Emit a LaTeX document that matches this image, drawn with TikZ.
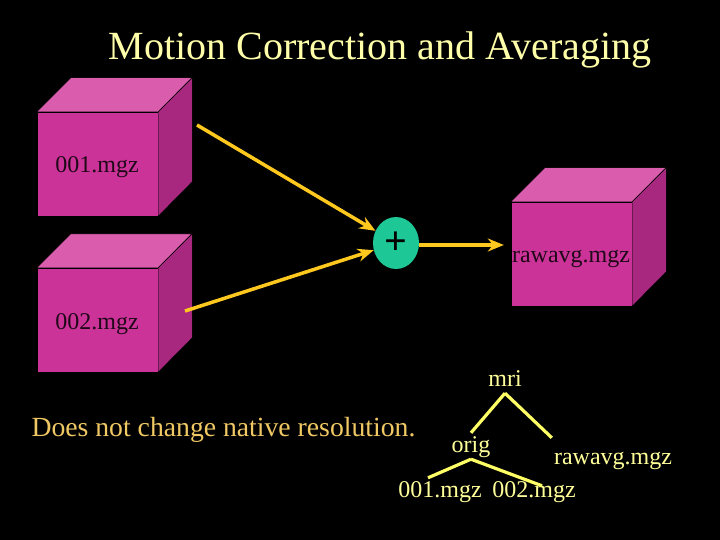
\documentclass[tikz,border=0pt]{standalone}
\usepackage{fontspec}
\setmainfont{Liberation Serif}
\usetikzlibrary{arrows.meta,shapes.geometric}
\definecolor{facefront}{RGB}{204,51,153}
\definecolor{facetop}{RGB}{218,92,172}
\definecolor{faceside}{RGB}{168,40,128}
\definecolor{arrowcol}{RGB}{255,200,30}
\definecolor{plusfill}{RGB}{30,200,150}
\definecolor{treeline}{RGB}{255,255,102}
\definecolor{treetext}{RGB}{255,255,153}
\definecolor{titlecol}{RGB}{255,255,170}
\definecolor{notecol}{RGB}{240,200,100}

\begin{document}
\begin{tikzpicture}[x=1pt,y=-1pt,>={Stealth[length=16pt,width=13pt]},
  front/.style={draw=black,fill=facefront,minimum width=121pt,
    minimum height=104pt,inner sep=0pt},
  top/.style={draw=black,fill=facetop},
  side/.style={draw=black,fill=faceside},
  lbl/.style={anchor=base,text=black!85!facefront,font=\fontsize{24}{28}\selectfont},
  feed/.style={->,draw=arrowcol,line width=3.5pt},
  leaf/.style={anchor=base,text=treetext,font=\fontsize{24}{28}\selectfont,
    text height=17pt,text depth=5pt,inner sep=2pt},
  branch/.style={draw=treeline,line width=3.2pt}]
  \fill[black] (0,0) rectangle (720,540);
  \useasboundingbox (0,0) rectangle (720,540);

  \node[anchor=base,text=titlecol,font=\fontsize{40}{48}\selectfont] (title)
    at (380,60) {Motion Correction and Averaging};

  % the three volumes
  \node[front] (A) at (97.5,164) {};
  \node[front] (B) at (97.5,320) {};
  \node[front] (avg) at (571.5,254) {};
  \foreach \v in {A,B,avg} {
    \path[top] (\v.north west) -- ++(34,-34) -- ++(121,0) -- (\v.north east) -- cycle;
    \path[side] (\v.north east) -- ++(34,-34) -- ++(0,104) -- (\v.south east) -- cycle;
  }
  \node[lbl] (A-txt) at (97,173) {001.mgz};
  \node[lbl] (B-txt) at (97,329) {002.mgz};
  \node[lbl] (avg-txt) at (571,262) {rawavg.mgz};

  % averaging
  \node[ellipse,fill=plusfill,minimum width=46pt,minimum height=52pt,inner sep=0pt,
    font=\bfseries\fontsize{40}{44}\selectfont] (plus) at (396,243) {+};
  \coordinate (in1) at (197,125);
  \coordinate (in2) at (185,311);
  \draw[feed] (in1) -- (plus);
  \draw[feed] (in2) -- (plus);
  \draw[feed,shorten >=7pt] ([yshift=-2pt]plus.east) -- ([yshift=-2pt]plus.east -| avg.west);

  \node[anchor=base west,text=notecol,font=\fontsize{27.7}{32}\selectfont] (note)
    at (28,436) {Does not change native resolution.};

  % directory tree
  \node[leaf] (mri) at (505,386) {mri};
  \node[leaf] (orig) at (471,452) {orig};
  \node[leaf] (raw) at (613,464) {rawavg.mgz};
  \node[leaf] (f001) at (440,497) {001.mgz};
  \node[leaf] (f002) at (534,497) {002.mgz};
  \draw[branch] (mri.south) -- (orig.north);
  \draw[branch] (mri.south) -- ([yshift=7pt]raw.north west);
  \draw[branch] (orig.south) -- ([xshift=-12pt]f001.north);
  \draw[branch] (orig.south) -- ([xshift=8pt,yshift=-8pt]f002.north);
\end{tikzpicture}
\end{document}
